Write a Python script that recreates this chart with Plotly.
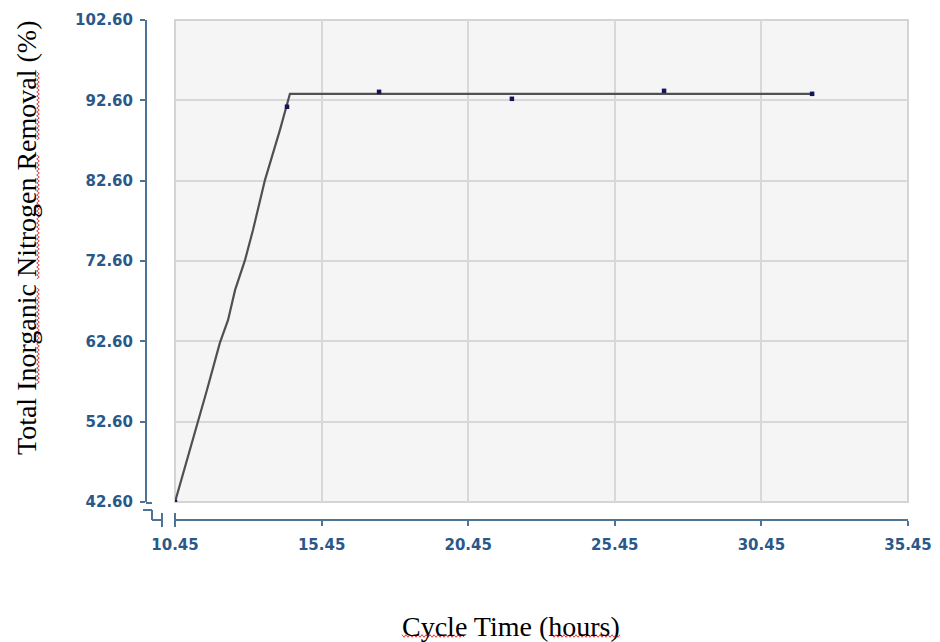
import plotly.graph_objects as go

# Measured total inorganic nitrogen removal against cycle time
cycle_time = [10.45, 14.27, 17.41, 21.94, 27.13, 32.18]
tin_removal = [42.60, 91.80, 93.66, 92.79, 93.78, 93.41]

# Fitted response curve (rise then plateau)
fit_time = [10.45, 10.89, 11.23, 11.54, 11.98, 12.26, 12.50, 12.84, 13.11,
            13.52, 14.03, 14.37, 32.18]
fit_removal = [42.60, 48.20, 52.44, 56.55, 62.40, 65.27, 69.00, 72.74, 76.47,
               82.70, 88.93, 93.41, 93.41]

x_ticks = [10.45, 15.45, 20.45, 25.45, 30.45, 35.45]
y_ticks = [42.60, 52.60, 62.60, 72.60, 82.60, 92.60, 102.60]

W, H = 940, 642
AXIS = "#4f7396"
LABEL = "#2a5888"
GRID = "#d8d8d8"


def px(x):
    return x / W


def py(y):
    return 1 - y / H


def squiggle(x0, x1, y0, y1, step=2.0, amp=1.3):
    """Wavy proof-reading underline between two pixel points (paper path)."""
    pts = []
    if y0 == y1:
        n = int((x1 - x0) / step)
        for i in range(n + 1):
            pts.append((x0 + i * step, y0 + (amp if i % 2 else -amp)))
    else:
        n = int((y1 - y0) / step)
        for i in range(n + 1):
            pts.append((x0 + (amp if i % 2 else -amp), y0 + i * step))
    return "M " + " L ".join(f"{px(a):.5f},{py(b):.5f}" for a, b in pts)


fig = go.Figure()
fig.add_trace(go.Scatter(
    x=fit_time, y=fit_removal, mode="lines",
    line=dict(color="#505050", width=2.2),
    hoverinfo="skip", showlegend=False,
))
fig.add_trace(go.Scatter(
    x=cycle_time, y=tin_removal, mode="markers",
    marker=dict(symbol="square", size=4.5, color="#14145a"), showlegend=False,
))

tick_font = dict(family="DejaVu Sans", size=15, color=LABEL, weight="bold")

fig.update_layout(
    width=W, height=H,
    margin=dict(l=0, r=0, t=0, b=0, autoexpand=False),
    paper_bgcolor="white",
    plot_bgcolor="#f5f5f5",
    xaxis=dict(
        domain=[px(175), px(908)], range=[10.45, 35.45],
        tickvals=x_ticks, ticktext=[f"{v:.2f}" for v in x_ticks],
        anchor="free", position=py(520), automargin=False,
        showline=True, linecolor=AXIS, linewidth=2,
        ticks="outside", ticklen=5, tickwidth=2, tickcolor=AXIS,
        tickfont=tick_font, ticklabelstandoff=6,
        showgrid=True, gridcolor=GRID, gridwidth=2, zeroline=False,
    ),
    yaxis=dict(
        domain=[py(502), py(20)], range=[42.60, 102.60],
        tickvals=y_ticks, ticktext=[f"{v:.2f}" for v in y_ticks],
        anchor="free", position=px(146), automargin=False,
        showline=True, linecolor=AXIS, linewidth=2,
        ticks="outside", ticklen=5, tickwidth=2, tickcolor=AXIS,
        tickfont=tick_font, ticklabelstandoff=4,
        showgrid=True, gridcolor=GRID, gridwidth=2, zeroline=False,
    ),
)

# plot-area frame
fig.add_shape(type="rect", xref="paper", yref="paper",
              x0=px(175), x1=px(908), y0=py(502), y1=py(20),
              line=dict(color="#d4d4d4", width=2), layer="below")

# axis-break marks where the two axes meet
brk = dict(color=AXIS, width=2)
for x0, y0, x1, y1 in [
    (146, 503, 152, 503),
    (143, 510, 152, 510),
    (152, 510, 152, 520),
    (152, 520, 162, 520),
    (162, 513, 162, 527),
    (175, 513, 175, 527),
]:
    fig.add_shape(type="line", xref="paper", yref="paper",
                  x0=px(x0), y0=py(y0), x1=px(x1), y1=py(y1), line=brk)

title_font = dict(family="Liberation Serif", size=28, color="black")
fig.add_annotation(text="Total Inorganic Nitrogen Removal (%)", textangle=-90,
                   xref="paper", yref="paper", x=px(27), y=py(238),
                   xanchor="center", yanchor="middle",
                   showarrow=False, font=title_font)
fig.add_annotation(text="Cycle Time (hours)",
                   xref="paper", yref="paper", x=px(511), y=py(626),
                   xanchor="center", yanchor="middle",
                   showarrow=False, font=title_font)

# red proofing underlines on the axis titles
wave = dict(color="#e8393a", width=1)
for seg in [(38, 38, 72, 140), (38, 38, 155, 280), (38, 38, 288, 385)]:
    fig.add_shape(type="path", xref="paper", yref="paper",
                  path=squiggle(seg[0], seg[1], seg[2], seg[3]), line=wave)
for seg in [(402, 465, 636, 636), (552, 620, 636, 636)]:
    fig.add_shape(type="path", xref="paper", yref="paper",
                  path=squiggle(seg[0], seg[1], seg[2], seg[3]), line=wave)

fig.write_html("out.html")
